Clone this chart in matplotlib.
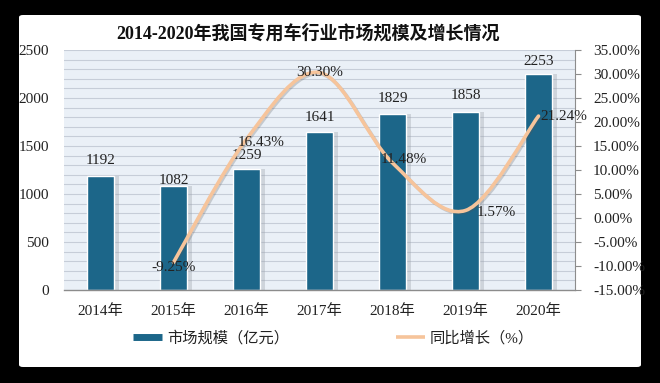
import numpy as np
import matplotlib
matplotlib.use("Agg")
import matplotlib.pyplot as plt
from matplotlib.path import Path
from matplotlib.patches import PathPatch, FancyBboxPatch
from matplotlib.lines import Line2D
import matplotlib.patheffects as pe

# ---------------- data ----------------
categories = ["2014年", "2015年", "2016年", "2017年", "2018年", "2019年", "2020年"]
market_size = [1192, 1082, 1259, 1641, 1829, 1858, 2253]          # 亿元
growth_years = ["2015年", "2016年", "2017年", "2018年", "2019年", "2020年"]
growth_rate = [-9.25, 16.43, 30.30, 11.48, 1.57, 21.24]           # %
left_ticks = [0, 500, 1000, 1500, 2000, 2500]
right_ticks = [-15, -10, -5, 0, 5, 10, 15, 20, 25, 30, 35]

title = "2014-2020年我国专用车行业市场规模及增长情况"
bar_name = "市场规模（亿元）"
line_name = "同比增长（%）"

# ---------------- style ----------------
FONT = ["Liberation Serif", "Noto Sans CJK SC", "DejaVu Sans"]
plt.rcParams["font.family"] = FONT
BAR_C = "#1c6689"
LINE_C = "#f6c49b"
BG_C = "#eaf0f7"
GRID_C = "#c6cdd8"
TXT_C = "#222222"

bar_label_off = [15, 6, 14, 15, 16, 16, 12]             # px above bar top
line_label_off = [(0, -5), (15, -3), (0, 0), (11, 3), (31, -2), (25, 0)]  # px

W, H = 660, 383
fig = plt.figure(figsize=(W / 100, H / 100), dpi=100, facecolor="black")

# white rounded panel
panel = FancyBboxPatch((19 / W, 1 - 367 / H), (641 - 19) / W, (367 - 15) / H,
                       boxstyle="round,pad=0,rounding_size=0.006",
                       transform=fig.transFigure, facecolor="white",
                       edgecolor="none", zorder=0)
fig.patches.append(panel)

ax = fig.add_axes([64 / W, 1 - 290 / H, (575 - 64) / W, (290 - 50) / H])
ax.set_facecolor(BG_C)
x = np.arange(len(categories))

# gridlines every 100
for g in range(100, 2501, 100):
    ax.axhline(g, color=GRID_C, lw=0.8, zorder=0.5)

# bar shadows + bars
ax.bar(x + 0.03, market_size, width=0.44, color="#9aa0a8", alpha=0.35,
       zorder=1, linewidth=0)
bars = ax.bar(x, market_size, width=0.38, color=BAR_C, edgecolor="white",
              linewidth=1.0, zorder=2)
for xi, v, off in zip(x, market_size, bar_label_off):
    ax.annotate(str(v), (xi, v), xytext=(0, off), textcoords="offset pixels",
                ha="center", va="center", fontsize=11, color=TXT_C,
                family=FONT, zorder=6)

ax.set_xlim(-0.5, len(categories) - 0.5)
ax.set_ylim(0, 2500)
ax.set_yticks(left_ticks)
ax.set_yticklabels([str(t) for t in left_ticks], fontsize=11, color=TXT_C)
ax.set_xticks(x)
ax.set_xticklabels(categories, fontsize=11, color=TXT_C)
ax.tick_params(axis="y", length=0, pad=11)
ax.tick_params(axis="x", length=0, pad=10)
for s in ["top", "left", "right"]:
    ax.spines[s].set_visible(False)
ax.spines["bottom"].set_color("#8c8c8c")
ax.spines["bottom"].set_linewidth(1.0)

# secondary axis with smooth line
ax2 = ax.twinx()
ax2.set_ylim(-15, 35)
ax2.set_yticks(right_ticks)
ax2.set_yticklabels([f"{t:.2f}%" for t in right_ticks], fontsize=11, color=TXT_C)
ax2.tick_params(axis="y", length=4, width=0.8, color="#8c8c8c", pad=9)
for s in ["top", "left", "bottom"]:
    ax2.spines[s].set_visible(False)
ax2.spines["right"].set_color("#8c8c8c")
ax2.spines["right"].set_linewidth(0.8)

gx = np.array([categories.index(y) for y in growth_years], dtype=float)
gy = np.array(growth_rate, dtype=float)
pts = np.column_stack([gx, gy])
verts = [tuple(pts[0])]
codes = [Path.MOVETO]
n = len(pts)
for i in range(n - 1):
    p0 = pts[i - 1] if i > 0 else pts[i]
    p1 = pts[i]
    p2 = pts[i + 1]
    p3 = pts[i + 2] if i + 2 < n else pts[i + 1]
    c1 = p1 + (p2 - p0) / 6.0
    c2 = p2 - (p3 - p1) / 6.0
    verts += [tuple(c1), tuple(c2), tuple(p2)]
    codes += [Path.CURVE4] * 3
path = Path(verts, codes)
patch = PathPatch(path, facecolor="none", edgecolor=LINE_C, lw=2.6,
                  capstyle="round", zorder=4,
                  path_effects=[pe.SimpleLineShadow(offset=(1, -1), shadow_color="#555555", alpha=0.25),
                                pe.Normal()])
ax2.add_patch(patch)

for xi, v, (dx, dy) in zip(gx, gy, line_label_off):
    ax2.annotate(f"{v:.2f}%", (xi, v), xytext=(dx, dy), textcoords="offset pixels",
                 ha="center", va="center", fontsize=11, color=TXT_C,
                 family=FONT, zorder=6)

ax.set_zorder(1)
ax2.set_zorder(2)
ax2.patch.set_visible(False)

# title
fig.text(0.466, 1 - 33 / H, title, ha="center", va="center", fontsize=13,
         fontweight="bold", color="#111111", family=FONT)

# legend
handles = [Line2D([0], [0], color=BAR_C, lw=5, solid_capstyle="butt"),
           Line2D([0], [0], color=LINE_C, lw=2.6, solid_capstyle="butt")]
leg = fig.legend(handles, [bar_name, line_name], loc="center",
                 bbox_to_anchor=(0.505, 1 - 338 / H), ncol=2, frameon=False,
                 handlelength=1.9, handletextpad=0.3,
                 columnspacing=7.0, prop={"family": FONT, "size": 11})
for t in leg.get_texts():
    t.set_color(TXT_C)

fig.savefig("out.png", dpi=100, facecolor="black")
